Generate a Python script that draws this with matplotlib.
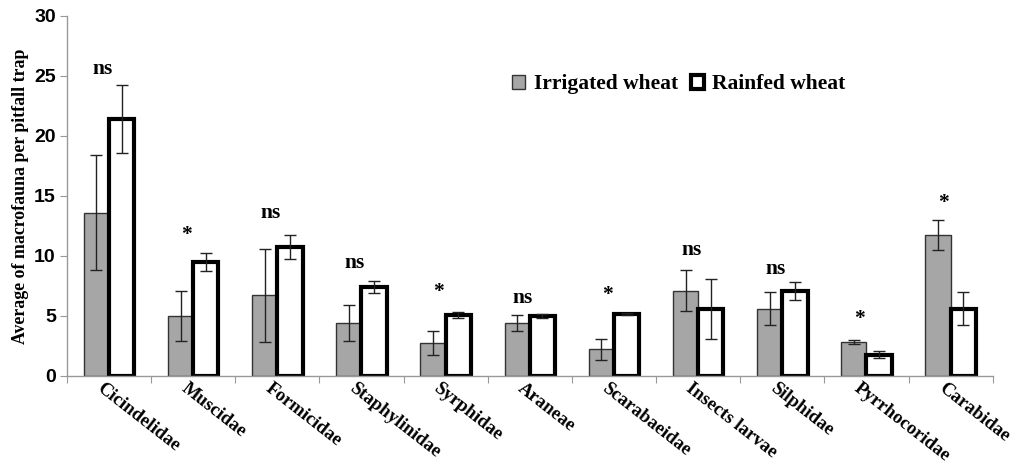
import numpy as np
import matplotlib
matplotlib.use('Agg')
import matplotlib.pyplot as plt
from matplotlib.patches import Patch

families = ['Cicindelidae', 'Muscidae', 'Formicidae', 'Staphylinidae', 'Syrphidae',
            'Araneae', 'Scarabaeidae', 'Insects larvae', 'Silphidae', 'Pyrrhocoridae',
            'Carabidae']
irrigated = [13.6, 5.0, 6.7, 4.4, 2.7, 4.4, 2.2, 7.1, 5.6, 2.85, 11.7]
irrigated_err = [4.8, 2.1, 3.9, 1.5, 1.0, 0.7, 0.85, 1.7, 1.4, 0.17, 1.25]
rainfed = [21.4, 9.45, 10.75, 7.4, 5.1, 5.0, 5.15, 5.6, 7.1, 1.75, 5.6]
rainfed_err = [2.8, 0.75, 1.0, 0.5, 0.25, 0.15, 0.05, 2.5, 0.75, 0.3, 1.4]
signif = ['ns', '*', 'ns', 'ns', '*', 'ns', '*', 'ns', 'ns', '*', '*']
signif_y = [25.6, 11.75, 13.6, 9.4, 7.0, 6.5, 6.75, 10.5, 8.9, 4.7, 14.4]

serif = 'Liberation Serif'
sans = 'Liberation Sans'

fig = plt.figure(figsize=(10.14, 4.68), dpi=100)
ax = fig.add_axes([0.066, 0.197, 0.913, 0.769])

x = np.arange(len(families))
w = 0.3
grey = '#a6a6a6'

ax.bar(x - w/2, irrigated, w, color=grey, edgecolor='#333333', linewidth=1.0,
       yerr=irrigated_err, error_kw=dict(ecolor='#222222', elinewidth=1, capsize=4, capthick=1))
ax.bar(x + w/2, rainfed, w, color='white', edgecolor='black', linewidth=3,
       yerr=rainfed_err, error_kw=dict(ecolor='#222222', elinewidth=1, capsize=4, capthick=1))

for i, (s, yy) in enumerate(zip(signif, signif_y)):
    ax.text(i - 0.08, yy, s, ha='center', va='center', fontsize=15.5,
            fontweight='bold', family=serif)

ax.set_xlim(-0.5, len(families) - 0.5)
ax.set_ylim(0, 30)
ax.set_yticks([0, 5, 10, 15, 20, 25, 30])
for t in ax.get_yticklabels():
    t.set_fontfamily(sans)
    t.set_fontweight('bold')
    t.set_fontsize(14)

ax.set_xticks(np.arange(len(families) + 1) - 0.5)
ax.set_xticklabels([])
ax.tick_params(axis='x', length=5, color='#999999', direction='out')
ax.tick_params(axis='y', length=5, color='#999999', pad=3)
for i, name in enumerate(families):
    ax.text(i - 0.12, -0.9, name, rotation=-38, rotation_mode='anchor',
            ha='left', va='center', fontsize=13.5, fontweight='bold', family=serif,
            transform=ax.transData, clip_on=False)

ax.set_ylabel('Average of macrofauna per pitfall trap', fontsize=12.8,
              fontweight='bold', family=serif, labelpad=4)

for side in ['top', 'right']:
    ax.spines[side].set_visible(False)
for side in ['left', 'bottom']:
    ax.spines[side].set_color('#999999')
    ax.spines[side].set_linewidth(1)

handles = [Patch(facecolor=grey, edgecolor='#333333', linewidth=1, label='Irrigated wheat'),
           Patch(facecolor='white', edgecolor='black', linewidth=3, label='Rainfed wheat')]
ax.legend(handles=handles, loc='center left', bbox_to_anchor=(0.46, 0.81), ncol=2,
          frameon=False, handlelength=0.6, handleheight=0.6, handletextpad=0.4,
          columnspacing=0.6, prop=dict(family=serif, weight='bold', size=15.5))

fig.savefig('out.png', dpi=100)
